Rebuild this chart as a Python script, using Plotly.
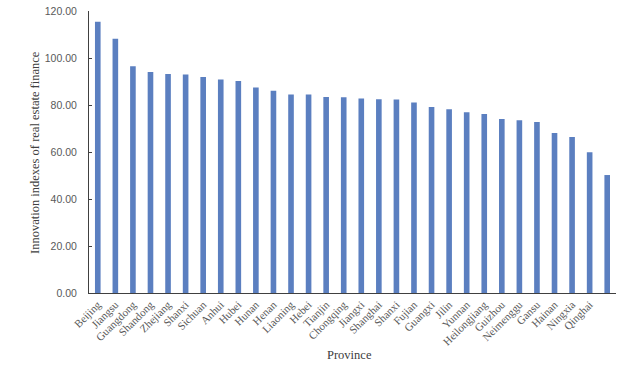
import plotly.graph_objects as go

provinces = ["Beijing", "Jiangsu", "Guangdong", "Shandong", "Zhejiang", "Shanxi", "Sichuan",
             "Anhui", "Hubei", "Hunan", "Henan", "Liaoning", "Hebei", "Tianjin", "Chongqing",
             "Jiangxi", "Shanghai", "Shanxi", "Fujian", "Guangxi", "Jilin", "Yunnan",
             "Heilongjiang", "Guizhou", "Neimenggu", "Gansu", "Hainan", "Ningxia", "Qinghai", ""]
values = [115.4, 108.2, 96.5, 94.0, 93.2, 93.0, 91.9, 90.9, 90.2, 87.4, 86.1, 84.5, 84.5,
          83.4, 83.3, 82.8, 82.5, 82.3, 81.1, 79.1, 78.2, 76.9, 76.2, 74.0, 73.5, 72.8,
          68.1, 66.4, 59.9, 50.2]
y_ticks = [0, 20, 40, 60, 80, 100, 120]
y_tick_labels = ["0.00", "20.00", "40.00", "60.00", "80.00", "100.00", "120.00"]

idx = list(range(len(values)))
serif = "Liberation Serif, Times New Roman, serif"
sans = "Liberation Sans, Arial, sans-serif"

fig = go.Figure(go.Bar(x=idx, y=values, marker=dict(color="#5b7fc0", line=dict(width=0))))

fig.update_layout(
    width=627, height=370,
    margin=dict(l=89, r=11, t=11, b=77),
    paper_bgcolor="white", plot_bgcolor="white",
    bargap=0.68,
    showlegend=False,
    font=dict(family=serif, size=11, color="#404040"),
    annotations=[
        dict(text="Province", xref="paper", yref="paper", x=0.495, y=-0.22,
             xanchor="center", yanchor="middle", showarrow=False,
             font=dict(family=serif, size=12.5, color="#404040")),
        dict(text="Innovation indexes of real estate finance", xref="paper", yref="paper",
             x=-0.1025, y=0.5, textangle=-90, xanchor="center", yanchor="middle", showarrow=False,
             font=dict(family=serif, size=12.5, color="#404040")),
    ],
)
fig.update_xaxes(
    tickmode="array", tickvals=idx, ticktext=provinces, tickangle=-45,
    range=[-0.5, len(values) - 0.5], automargin=False,
    showline=True, linecolor="#404040", linewidth=1,
    ticks="", showgrid=False, zeroline=False,
    tickfont=dict(family=serif, size=11, color="#595959"),
)
fig.update_yaxes(
    range=[0, 120], tickmode="array", tickvals=y_ticks, ticktext=y_tick_labels,
    automargin=False,
    showline=True, linecolor="#404040", linewidth=1,
    ticks="inside", ticklen=3, tickcolor="#404040",
    ticklabelstandoff=9,
    showgrid=False, zeroline=False,
    tickfont=dict(family=sans, size=10.5, color="#595959"),
)

fig.write_html("out.html", config={"displayModeBar": False})

# remove the default 8px page margin so the figure sits at the window origin
with open("out.html", "r", encoding="utf-8") as f:
    html = f.read()
html = html.replace("<body>", '<body style="margin:0;padding:0;">', 1)
with open("out.html", "w", encoding="utf-8") as f:
    f.write(html)
